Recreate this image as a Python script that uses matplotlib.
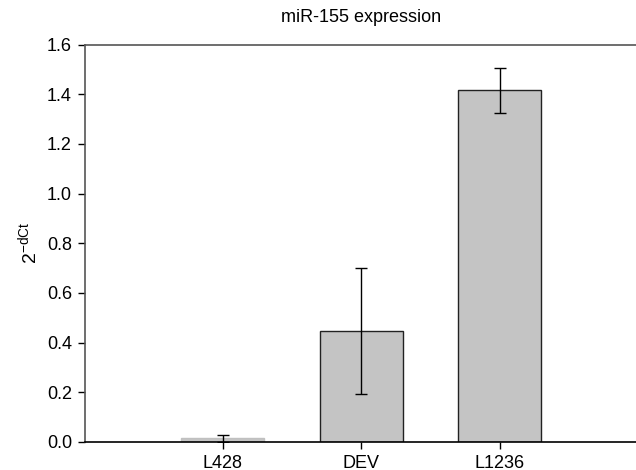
import numpy as np
import matplotlib
matplotlib.use("Agg")
import matplotlib.pyplot as plt

plt.rcParams['font.family'] = ['Liberation Sans', 'DejaVu Sans']

# data
samples = ['L428', 'DEV', 'L1236']
expression = [0.015, 0.448, 1.415]
errors = [0.014, 0.253, 0.091]
y_ticks = [0.0, 0.2, 0.4, 0.6, 0.8, 1.0, 1.2, 1.4, 1.6]

fig = plt.figure(figsize=(6.36, 4.70), dpi=100)
ax = fig.add_axes([84.5 / 636, 1 - 442 / 470, 1 - 84.5 / 636 + 0.003, (442 - 44.5) / 470])

x = np.arange(1, len(samples) + 1)
edges = ['#c0c0c0', '#222222', '#222222']
ax.bar(x, expression, width=0.6, color='#c4c4c4', edgecolor=edges, linewidth=1.0, zorder=2)
ax.errorbar(x, expression, yerr=errors, fmt='none', ecolor='black',
            elinewidth=1.0, capsize=4.5, capthick=1.0, zorder=3)

ax.set_xlim(0, 4)
ax.set_ylim(0, 1.6)
ax.set_xticks(x)
ax.set_xticklabels(samples, fontsize=13)
ax.set_yticks(y_ticks)
ax.set_yticklabels([f'{v:.1f}' for v in y_ticks], fontsize=13)
ax.tick_params(direction='out', length=5, width=1.0, pad=4)

ax.spines['right'].set_visible(False)
ax.spines['top'].set_color('#555555')
ax.spines['left'].set_color('#555555')
ax.spines['bottom'].set_color('black')
for s in ['top', 'left', 'bottom']:
    ax.spines[s].set_linewidth(1.2)

ax.set_ylabel('2$^{\\mathregular{-dCt}}$', fontsize=14, labelpad=4)
ax.set_title('miR-155 expression', fontsize=13, pad=16)

fig.savefig('out.png', dpi=100)
